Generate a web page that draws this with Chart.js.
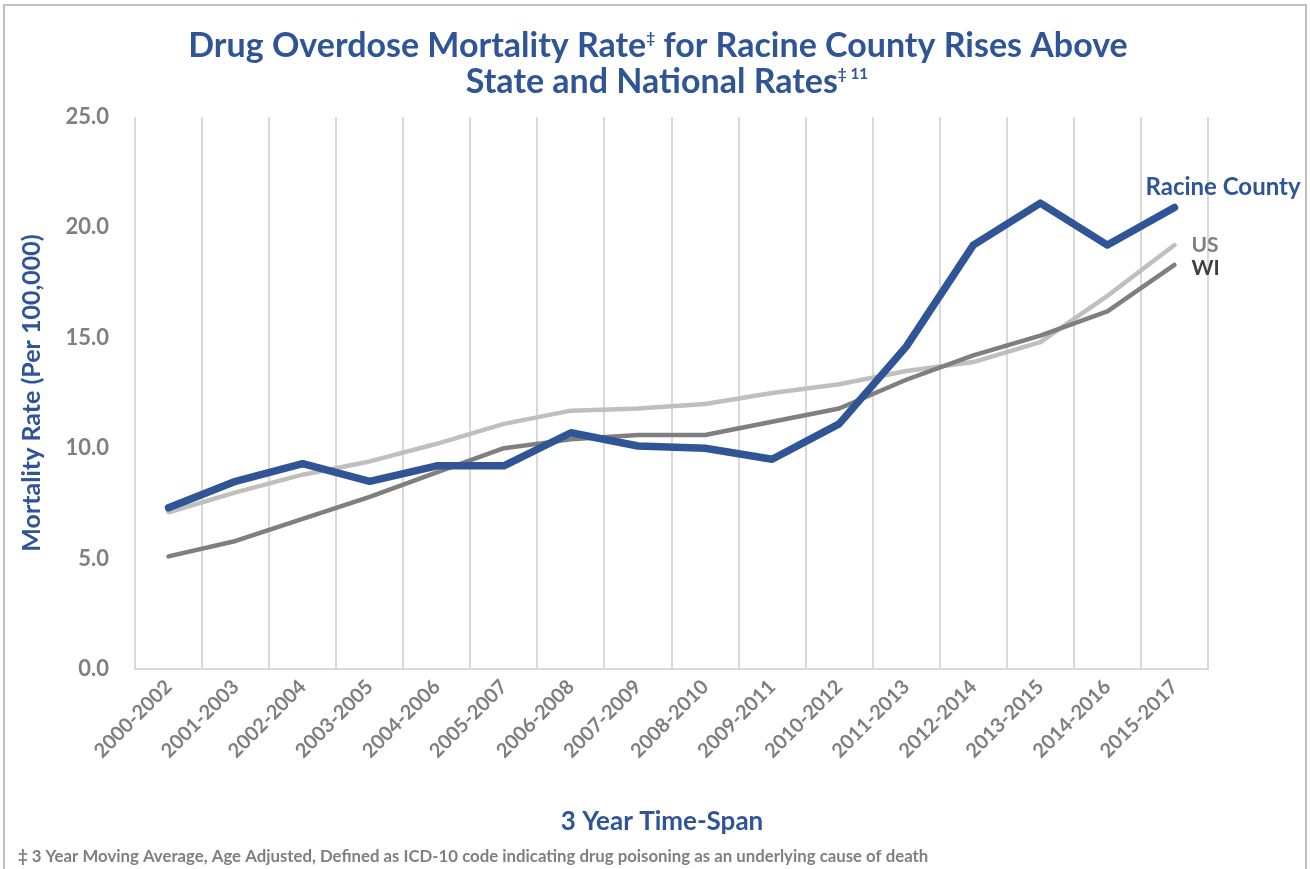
<!DOCTYPE html>
<html>
<head>
<meta charset="utf-8">
<title>Drug Overdose Mortality Rate</title>
<script src="https://cdn.jsdelivr.net/npm/chart.js@4.4.1/dist/chart.umd.min.js"></script>
<style>
  html, body { margin: 0; padding: 0; background: #ffffff; }
  #wrap { width: 1310px; height: 869px; position: relative; }
  canvas { display: block; }
</style>
</head>
<body>
<div id="wrap"><canvas id="chart" width="1310" height="869"></canvas></div>
<script>
// 3-year moving-average periods
const categories = [
  '2000-2002', '2001-2003', '2002-2004', '2003-2005', '2004-2006', '2005-2007',
  '2006-2008', '2007-2009', '2008-2010', '2009-2011', '2010-2012', '2011-2013',
  '2012-2014', '2013-2015', '2014-2016', '2015-2017'
];

// Age-adjusted drug overdose deaths per 100,000
const racineCounty = [7.3, 8.5, 9.3, 8.5, 9.2, 9.2, 10.7, 10.1, 10.0, 9.5, 11.1, 14.6, 19.2, 21.1, 19.2, 20.9];
const unitedStates = [7.1, 8.0, 8.8, 9.4, 10.2, 11.1, 11.7, 11.8, 12.0, 12.5, 12.9, 13.5, 13.9, 14.8, 16.9, 19.2];
const wisconsin    = [5.1, 5.8, 6.8, 7.8, 8.9, 10.0, 10.4, 10.6, 10.6, 11.2, 11.8, 13.1, 14.2, 15.1, 16.2, 18.3];

const yMin = 0, yMax = 25, yStep = 5;

const BLUE = '#2F5597';
const LIGHT_GREY = '#BFBFBF';
const MID_GREY = '#7F7F7F';
const DARK_GREY = '#404040';
const GRID = '#D9D9D9';
const FONT = 'Lato, "Open Sans", sans-serif';

// Draws a line of text made of segments; superscript segments are smaller and raised.
function drawRichLine(ctx, segments, cx, y, size, color) {
  let total = 0;
  const parts = segments.map(s => {
    const sz = s.sup ? size * 0.45 : size;
    ctx.font = `bold ${sz}px ${FONT}`;
    const w = ctx.measureText(s.t).width;
    total += w;
    return { t: s.t, sz, w, sup: s.sup };
  });
  let x = cx - total / 2;
  ctx.fillStyle = color;
  ctx.textAlign = 'left';
  ctx.textBaseline = 'alphabetic';
  parts.forEach(p => {
    ctx.font = `bold ${p.sz}px ${FONT}`;
    ctx.fillText(p.t, x, p.sup ? y - size * 0.42 : y);
    x += p.w;
  });
}

const annotations = {
  id: 'annotations',
  afterDraw(chart) {
    const ctx = chart.ctx;
    ctx.save();

    // outer frame
    ctx.strokeStyle = '#BFBFBF';
    ctx.lineWidth = 2;
    ctx.beginPath();
    ctx.moveTo(4, 869);
    ctx.lineTo(4, 5);
    ctx.lineTo(1306, 5);
    ctx.lineTo(1306, 869);
    ctx.stroke();

    // chart title
    drawRichLine(ctx, [
      { t: 'Drug Overdose Mortality Rate' },
      { t: '‡', sup: true },
      { t: ' for Racine County Rises Above' }
    ], 658, 57, 34, BLUE);
    drawRichLine(ctx, [
      { t: 'State and National Rates' },
      { t: '‡ 11', sup: true }
    ], 667, 93, 34, BLUE);

    // x-axis title
    ctx.fillStyle = BLUE;
    ctx.font = `bold 26px ${FONT}`;
    ctx.textAlign = 'center';
    ctx.textBaseline = 'middle';
    ctx.fillText('3 Year Time-Span', 662, 822);

    // footnote
    ctx.fillStyle = MID_GREY;
    ctx.font = `bold 16.8px ${FONT}`;
    ctx.textAlign = 'left';
    ctx.fillText('‡ 3 Year Moving Average, Age Adjusted, Defined as ICD-10 code indicating drug poisoning as an underlying cause of death', 18, 857);

    // series labels beside the last points
    const last = categories.length - 1;
    const pR = chart.getDatasetMeta(0).data[last];
    const pW = chart.getDatasetMeta(1).data[last];
    const pU = chart.getDatasetMeta(2).data[last];
    ctx.textAlign = 'left';
    ctx.textBaseline = 'middle';
    ctx.font = `bold 24px ${FONT}`;
    ctx.fillStyle = BLUE;
    ctx.fillText('Racine County', pR.x - 29, pR.y - 20);
    ctx.font = `bold 21px ${FONT}`;
    ctx.fillStyle = MID_GREY;
    ctx.fillText('US', pU.x + 17, pU.y);
    ctx.fillStyle = DARK_GREY;
    ctx.fillText('WI', pW.x + 17, pW.y + 3);

    ctx.restore();
  }
};

new Chart(document.getElementById('chart'), {
  type: 'line',
  data: {
    labels: categories,
    datasets: [
      {
        label: 'Racine County',
        data: racineCounty,
        borderColor: BLUE,
        borderWidth: 7.5,
        borderCapStyle: 'round',
        borderJoinStyle: 'round',
        pointRadius: 0,
        tension: 0
      },
      {
        label: 'WI',
        data: wisconsin,
        borderColor: MID_GREY,
        borderWidth: 4.5,
        borderCapStyle: 'round',
        borderJoinStyle: 'round',
        pointRadius: 0,
        tension: 0
      },
      {
        label: 'US',
        data: unitedStates,
        borderColor: LIGHT_GREY,
        borderWidth: 4.5,
        borderCapStyle: 'round',
        borderJoinStyle: 'round',
        pointRadius: 0,
        tension: 0
      }
    ]
  },
  options: {
    responsive: false,
    devicePixelRatio: 1,
    animation: false,
    layout: { padding: { top: 117, left: 0, right: 102, bottom: 70 } },
    plugins: {
      legend: { display: false },
      title: { display: false },
      tooltip: { enabled: false }
    },
    scales: {
      x: {
        offset: true,
        grid: { offset: true, color: GRID, lineWidth: 2, drawTicks: false },
        border: { display: true, color: GRID, width: 2 },
        ticks: {
          color: MID_GREY,
          font: { family: FONT, size: 20, weight: 'bold' },
          maxRotation: 45,
          minRotation: 45,
          autoSkip: false,
          padding: 6
        },
        afterFit(scale) { scale.height = 130; }
      },
      y: {
        min: yMin,
        max: yMax,
        grid: { display: false },
        border: { display: false },
        ticks: {
          stepSize: yStep,
          color: MID_GREY,
          font: { family: FONT, size: 22, weight: 'bold' },
          padding: 18,
          callback: v => Number(v).toFixed(1)
        },
        title: {
          display: true,
          text: 'Mortality Rate (Per 100,000)',
          color: BLUE,
          font: { family: FONT, size: 25, weight: 'bold' },
          padding: { top: 17, bottom: 0 }
        },
        afterFit(scale) { scale.width = 135; }
      }
    }
  },
  plugins: [annotations]
});
</script>
</body>
</html>
